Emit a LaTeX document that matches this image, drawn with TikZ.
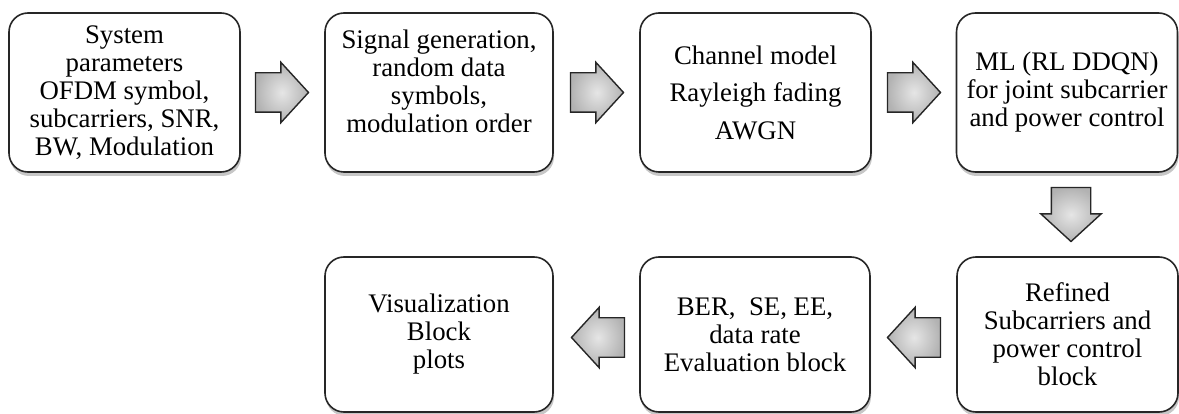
\documentclass[tikz,border=0pt]{standalone}
\usepackage{fontspec}
\setmainfont{Liberation Serif}
\usetikzlibrary{shapes.arrows,shadows,calc}
\tikzset{
  blk/.style={draw=black!85, line width=1.6pt, rounded corners=19pt, fill=white,
    align=center, inner sep=0pt, font=\fontsize{26.8}{28}\selectfont,
    drop shadow={shadow xshift=1pt, shadow yshift=-4pt, opacity=0.22, fill=black}},
  flow/.style={single arrow, draw=black!85, line width=1.4pt,
    inner xsep=0pt, inner ysep=19pt, anchor=tail,
    minimum height=53pt, single arrow head extend=10.5pt,
    single arrow tip angle=95, inner color=gray!20, outer color=gray!60},
}
\begin{document}
\begin{tikzpicture}[x=1pt,y=-1pt]
\useasboundingbox (0,0) rectangle (1179,414);
% top row
\node[blk, minimum width=231pt, minimum height=159pt] (b1) at (124.5,92.5)
  {System\\parameters\\OFDM symbol,\\subcarriers, SNR,\\BW, Modulation};
\node[blk, minimum width=228pt, minimum height=159pt] (b2) at (439,92.5)
  {Signal generation,\\random data\\symbols,\\modulation order\\[-5pt]\mbox{}};
\node[blk, minimum width=231pt, minimum height=159pt] (b3) at (755.5,92.5)
  {Channel model\\[9.5pt]Rayleigh fading\\[9.5pt]AWGN};
\node[blk, minimum width=221pt, minimum height=159pt] (b4) at (1067,92.5)
  {ML (RL DDQN)\\for joint subcarrier\\and power control};
% bottom row
\node[blk, minimum width=221pt, minimum height=155pt] (b5) at (1067.5,334.5)
  {Refined\\Subcarriers and\\power control\\block};
\node[blk, minimum width=230pt, minimum height=155pt] (b6) at (755,334.5)
  {BER,~ SE, EE,\\data rate\\Evaluation block};
\node[blk, minimum width=228pt, minimum height=155pt] (b7) at (439,334.5)
  {Visualization\\Block\\plots};
% block arrows
\node[flow] (a1) at ($(b1.east)+(14,0)$) {};
\node[flow] (a2) at ($(b2.east)+(16,0)$) {};
\node[flow] (a3) at ($(b3.east)+(15,0)$) {};
\node[flow, rotate=-90, minimum height=54pt] (a4) at ($(b4.south)+(4,14)$) {};
\node[flow, rotate=180] (a5) at ($(b5.west)+(-15,3)$) {};
\node[flow, rotate=180] (a6) at ($(b6.west)+(-14,3)$) {};
\end{tikzpicture}
\end{document}
